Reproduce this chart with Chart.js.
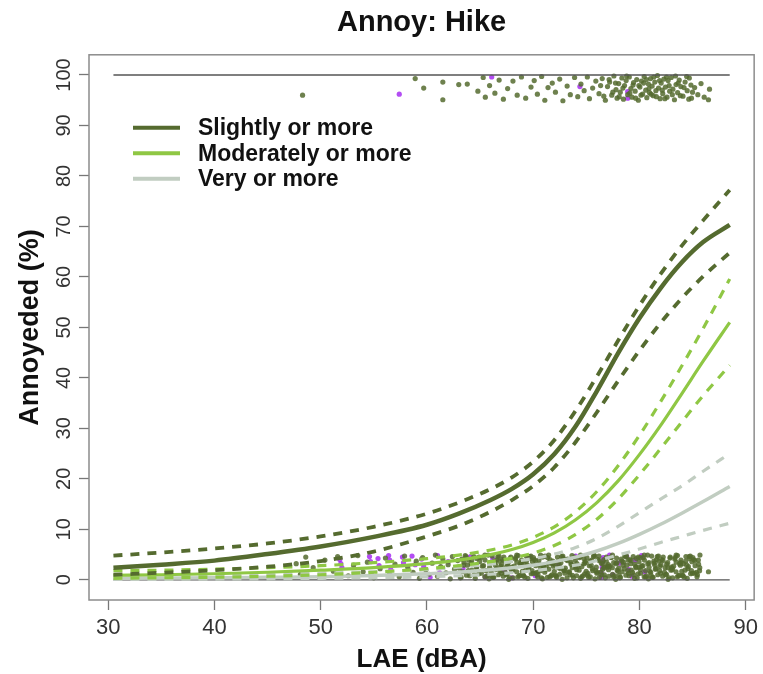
<!DOCTYPE html>
<html>
<head>
<meta charset="utf-8">
<script src="https://cdn.jsdelivr.net/npm/chart.js@4"></script>
<style>
html,body{margin:0;padding:0;background:#fff;}
#wrap{width:763px;height:674px;}
</style>
</head>
<body>
<div id="wrap"><canvas id="c" width="763" height="674"></canvas></div>
<script>
// ---- data ----
const xTicks = [30, 40, 50, 60, 70, 80, 90];
const yTicks = [0, 10, 20, 30, 40, 50, 60, 70, 80, 90, 100];
const lae          = [30.5, 35, 40, 45, 50, 55, 60, 63, 66, 68, 70, 72, 74, 76, 78, 80, 82, 84, 86, 88.5];
const slightly     = [2.4, 3.0, 3.8, 5.1, 6.6, 8.5, 10.9, 13.1, 15.8, 18.0, 20.9, 24.9, 30.4, 37.4, 44.9, 51.8, 57.8, 62.9, 66.9, 70.3];
const slightlyHi   = [4.8, 5.4, 6.2, 7.2, 8.6, 10.5, 13.1, 15.3, 18.0, 20.3, 23.4, 27.7, 33.5, 40.3, 47.4, 54.3, 60.6, 66.2, 71.2, 77.2];
const slightlyLo   = [1.0, 1.4, 1.9, 2.6, 3.7, 5.6, 8.6, 10.7, 13.5, 15.8, 18.6, 22.3, 27.3, 33.2, 39.4, 45.4, 50.9, 55.8, 60.1, 64.8];
const moderately   = [0.9, 1.0, 1.2, 1.5, 1.9, 2.4, 3.2, 3.9, 5.0, 6.0, 7.4, 9.3, 11.9, 15.3, 19.6, 24.8, 30.6, 36.9, 43.3, 51.0];
const moderatelyHi = [1.8, 1.9, 2.1, 2.4, 2.8, 3.4, 4.2, 4.9, 5.9, 6.9, 8.4, 10.5, 13.5, 17.5, 22.6, 28.6, 35.3, 42.4, 49.8, 59.6];
const moderatelyLo = [0.3, 0.4, 0.5, 0.7, 1.0, 1.5, 2.2, 2.8, 3.6, 4.3, 5.3, 6.8, 9.0, 12.0, 16.0, 20.8, 26.0, 31.3, 36.5, 42.5];
const very         = [0.3, 0.35, 0.4, 0.5, 0.6, 0.85, 1.2, 1.5, 2.0, 2.4, 2.9, 3.6, 4.5, 5.7, 7.2, 9.0, 11.0, 13.2, 15.5, 18.5];
const veryHi       = [0.9, 0.95, 1.0, 1.1, 1.3, 1.6, 2.0, 2.5, 3.1, 3.6, 4.2, 5.1, 6.4, 8.2, 10.6, 13.3, 16.0, 18.6, 21.5, 25.0];
const veryLo       = [0.1, 0.1, 0.15, 0.2, 0.3, 0.4, 0.6, 0.8, 1.1, 1.4, 1.8, 2.3, 2.9, 3.8, 4.9, 6.1, 7.4, 8.6, 9.8, 11.2];
const refX = [30.5, 88.5];
const refLow = [0, 0];
const refHigh = [100, 100];
const legendLabels = ['Slightly or more', 'Moderately or more', 'Very or more'];

// responses (jittered): [LAE, %]
const notAnnoyedGreen = [
[32.6,1.6],[47.7,3.2],[48.1,1.1],[48.6,4.5],[49.3,2.4],[49.9,0.5],[50.4,3.9],[51.2,1.7],[51.6,4.6],
[52.6,0.8],[53.1,2.9],[53.5,4.8],[54.0,1.6],[54.4,3.5],[55.0,0.4],[55.6,2.2],[56.1,4.3],[56.5,1.2],[57.0,3.1],[57.4,0.6],[57.9,4.7],[58.2,2.5],[58.7,1.5],
[59.0,3.7],[59.3,0.3],[59.6,4.4],[59.9,2.0],[60.2,1.1],[60.5,3.3],[60.8,4.9],[61.0,0.7],[61.3,2.6],[61.5,4.1],[61.8,1.4],[62.0,3.0],[62.2,0.2],[62.4,4.6],[62.6,2.1],[62.9,3.8],
[63.06,2.3],[63.15,0.4],[63.29,4.1],[63.38,1.6],[63.50,3.5],[63.61,4.8],[63.73,0.9],[63.82,2.9],[63.94,3.9],
[64.03,0.8],[64.19,3.2],[64.24,1.9],[64.42,4.6],[64.55,0.3],[64.66,2.6],[64.70,4.2],[64.88,1.2],[64.97,3.6],
[65.09,4.4],[65.12,1.3],[65.33,2.8],[65.45,0.6],[65.47,3.9],[65.58,1.8],[65.77,4.9],[65.85,0.2],[65.91,2.5],
[66.06,1.5],[66.15,4.7],[66.29,0.5],[66.38,3.3],[66.50,2.1],[66.61,4.0],[66.73,1.0],[66.82,3.7],[66.94,2.7],
[67.03,3.0],[67.19,0.7],[67.24,4.5],[67.42,2.4],[67.55,1.1],[67.66,3.4],[67.70,0.1],[67.88,4.3],[67.97,1.9],
[68.09,2.3],[68.12,0.4],[68.33,4.1],[68.45,1.6],[68.47,3.5],[68.58,4.8],[68.77,0.9],[68.85,2.9],[68.91,3.9],
[69.06,0.8],[69.15,3.2],[69.29,1.9],[69.38,4.6],[69.50,0.3],[69.61,2.6],[69.73,4.2],[69.82,1.2],[69.94,3.6],
[70.03,4.4],[70.19,1.3],[70.24,2.8],[70.42,0.6],[70.55,3.9],[70.66,1.8],[70.70,4.9],[70.88,0.2],[70.97,2.5],
[71.09,1.5],[71.12,4.7],[71.33,0.5],[71.45,3.3],[71.47,2.1],[71.58,4.0],[71.77,1.0],[71.85,3.7],[71.91,2.7],
[72.06,3.0],[72.15,0.7],[72.29,4.5],[72.38,2.4],[72.50,1.1],[72.61,3.4],[72.73,0.1],[72.82,4.3],[72.94,1.9],
[73.03,2.3],[73.19,0.4],[73.24,4.1],[73.42,1.6],[73.55,3.5],[73.66,4.8],[73.70,0.9],[73.88,2.9],[73.97,3.9],
[74.09,0.8],[74.12,3.2],[74.33,1.9],[74.45,4.6],[74.47,0.3],[74.58,2.6],[74.77,4.2],[74.85,1.2],[74.91,3.6],
[75.06,4.4],[75.15,1.3],[75.29,2.8],[75.38,0.6],[75.50,3.9],[75.61,1.8],[75.73,4.9],[75.82,0.2],[75.94,2.5],
[76.03,1.5],[76.19,4.7],[76.24,0.5],[76.42,3.3],[76.55,2.1],[76.66,4.0],[76.70,1.0],[76.88,3.7],[76.97,2.7],
[77.09,3.0],[77.12,0.7],[77.33,4.5],[77.45,2.4],[77.47,1.1],[77.58,3.4],[77.77,0.1],[77.85,4.3],[77.91,1.9],
[78.06,2.3],[78.15,0.4],[78.29,4.1],[78.38,1.6],[78.50,3.5],[78.61,4.8],[78.73,0.9],[78.82,2.9],[78.94,3.9],
[79.03,0.8],[79.19,3.2],[79.24,1.9],[79.42,4.6],[79.55,0.3],[79.66,2.6],[79.70,4.2],[79.88,1.2],[79.97,3.6],
[80.09,4.4],[80.12,1.3],[80.33,2.8],[80.45,0.6],[80.47,3.9],[80.58,1.8],[80.77,4.9],[80.85,0.2],[80.91,2.5],
[81.06,1.5],[81.15,4.7],[81.29,0.5],[81.38,3.3],[81.50,2.1],[81.61,4.0],[81.73,1.0],[81.82,3.7],[81.94,2.7],
[82.03,3.0],[82.19,0.7],[82.24,4.5],[82.42,2.4],[82.55,1.1],[82.66,3.4],[82.70,0.1],[82.88,4.3],[82.97,1.9],
[83.09,2.3],[83.12,0.4],[83.33,4.1],[83.45,1.6],[83.47,3.5],[83.58,4.8],[83.77,0.9],[83.85,2.9],[83.91,3.9],
[84.06,0.8],[84.15,3.2],[84.29,1.9],[84.38,4.6],[84.50,0.3],[84.61,2.6],[84.73,4.2],[84.82,1.2],[84.94,3.6],
[85.03,4.4],[85.19,1.3],[85.24,2.8],[85.42,0.6],[85.55,3.9],[85.66,1.8],[85.70,4.9],[86.5,1.6],
[66.10,0.9],[66.36,3.7],[66.57,2.2],[66.79,4.7],[66.99,1.3],[67.10,4.0],[67.36,1.5],[67.57,3.1],[67.79,0.4],[67.99,2.5],
[68.10,2.0],[68.36,4.4],[68.57,0.6],[68.79,3.2],[68.99,1.7],[69.10,0.9],[69.36,3.7],[69.57,2.2],[69.79,4.7],[69.99,1.3],
[70.10,4.0],[70.36,1.5],[70.57,3.1],[70.79,0.4],[70.99,2.5],[71.10,2.0],[71.36,4.4],[71.57,0.6],[71.79,3.2],[71.99,1.7],
[72.10,0.9],[72.36,3.7],[72.57,2.2],[72.79,4.7],[72.99,1.3],[73.10,4.0],[73.36,1.5],[73.57,3.1],[73.79,0.4],[73.99,2.5],
[74.10,2.0],[74.36,4.4],[74.57,0.6],[74.79,3.2],[74.99,1.7],[75.10,0.9],[75.36,3.7],[75.57,2.2],[75.79,4.7],[75.99,1.3],
[76.10,4.0],[76.36,1.5],[76.57,3.1],[76.79,0.4],[76.99,2.5],[77.10,2.0],[77.36,4.4],[77.57,0.6],[77.79,3.2],[77.99,1.7],
[78.10,0.9],[78.36,3.7],[78.57,2.2],[78.79,4.7],[78.99,1.3],[79.10,4.0],[79.36,1.5],[79.57,3.1],[79.79,0.4],[79.99,2.5],
[80.10,2.0],[80.36,4.4],[80.57,0.6],[80.79,3.2],[80.99,1.7],[81.10,0.9],[81.36,3.7],[81.57,2.2],[81.79,4.7],[81.99,1.3],
[82.10,4.0],[82.36,1.5],[82.57,3.1],[82.79,0.4],[82.99,2.5],[83.10,2.0],[83.36,4.4],[83.57,0.6],[83.79,3.2],[83.99,1.7],
[84.10,0.9],[84.36,3.7],[84.57,2.2],[84.79,4.7],[84.99,1.3],[85.10,4.0],[85.36,1.5],[85.57,3.1],
[63.22,0.5],[63.46,2.9],[63.68,4.6],[63.90,1.8],[64.22,3.8],[64.46,1.0],[64.68,2.4],[64.90,4.5],[65.22,2.7],[65.46,4.9],[65.68,0.8],[65.90,3.4],
[66.22,0.5],[66.46,2.9],[66.68,4.6],[66.90,1.8],[67.22,3.8],[67.46,1.0],[67.68,2.4],[67.90,4.5],[68.22,2.7],[68.46,4.9],[68.68,0.8],[68.90,3.4],
[69.22,0.5],[69.46,2.9],[69.68,4.6],[69.90,1.8],[70.22,3.8],[70.46,1.0],[70.68,2.4],[70.90,4.5],[71.22,2.7],[71.46,4.9],[71.68,0.8],[71.90,3.4],
[72.22,0.5],[72.46,2.9],[72.68,4.6],[72.90,1.8],[73.22,3.8],[73.46,1.0],[73.68,2.4],[73.90,4.5],[74.22,2.7],[74.46,4.9],[74.68,0.8],[74.90,3.4],
[75.22,0.5],[75.46,2.9],[75.68,4.6],[75.90,1.8],[76.22,3.8],[76.46,1.0],[76.68,2.4],[76.90,4.5],[77.22,2.7],[77.46,4.9],[77.68,0.8],[77.90,3.4],
[78.22,0.5],[78.46,2.9],[78.68,4.6],[78.90,1.8],[79.22,3.8],[79.46,1.0],[79.68,2.4],[79.90,4.5],[80.22,2.7],[80.46,4.9],[80.68,0.8],[80.90,3.4],
[81.22,0.5],[81.46,2.9],[81.68,4.6],[81.90,1.8],[82.22,3.8],[82.46,1.0],[82.68,2.4],[82.90,4.5],[83.22,2.7],[83.46,4.9],[83.68,0.8],[83.90,3.4],
[84.22,0.5],[84.46,2.9],[84.68,4.6],[84.90,1.8],[85.22,3.8],[85.46,1.0],[85.68,2.4]
];
const notAnnoyedPurple = [
[51.8,4.0],[51.9,3.2],[52.0,2.4],[54.6,4.6],[54.7,3.6],[54.8,1.0],[55.4,4.2],[55.5,2.8],[56.4,4.8],[56.5,3.9],[56.6,2.0],
[57.7,4.5],[57.8,3.4],[58.6,4.7],[58.9,3.0],[59.5,4.1],[59.7,2.6],[60.3,0.5],[61.0,4.8],[61.2,1.4],[62.0,3.6],[63.4,2.2],
[64.1,4.6],[65.5,0.6],[66.2,4.1],[67.3,1.9],[68.0,0.4],[69.5,4.5],[70.2,0.8],[72.4,2.9],[74.0,4.7],
[76.4,0.5],[76.4,1.5],[76.5,2.5],[76.5,3.5],[76.6,4.4],[77.2,4.9],[77.5,1.0],[78.1,3.3],[78.8,4.6],[79.0,2.0],[79.3,0.7],[79.6,3.9],[80.2,4.8],[80.5,1.6]
];
const annoyedGreen = [
[48.3,96.0],[58.9,99.3],[59.7,97.4],[61.5,98.6],[61.5,95.1],[63.0,98.1],[63.8,98.2],[64.8,96.8],
[65.3,99.5],[65.5,95.6],[65.9,97.9],[66.4,96.4],[66.8,99.0],[67.2,95.2],[67.6,97.3],[68.1,98.8],[68.5,96.0],[68.9,99.6],[69.3,95.4],[69.8,97.6],
[70.1,98.9],[70.4,96.2],[70.8,99.7],[71.1,95.0],[71.4,97.5],[71.8,98.4],[72.1,96.6],[72.5,99.2],[72.8,94.9],[73.2,97.8],[73.5,96.1],[73.9,99.5],[74.2,95.7],
[74.5,98.2],[74.8,96.9],[75.1,99.6],[75.3,95.3],[75.6,97.4],[75.9,98.8],[76.2,96.3],[76.5,99.3],[76.8,95.0],[77.0,97.7],
[77.2,98.6],[77.4,96.0],[77.6,99.8],[77.8,97.1],[77.9,95.4],
[78.05,98.3],[78.2,96.6],[78.35,99.4],[78.5,95.2],[78.6,97.9],[78.75,98.9],[78.9,96.1],
[79.05,99.6],[79.2,97.3],[79.3,95.6],[79.45,98.5],[79.6,96.8],[79.75,99.1],[79.9,95.0],
[80.05,97.6],[80.2,98.8],[80.3,96.2],[80.45,99.7],[80.6,97.0],[80.7,95.5],[80.85,98.2],[80.95,96.5],
[81.05,99.3],[81.2,97.8],[81.3,95.9],[81.45,98.6],[81.55,96.9],[81.7,99.9],[81.8,97.4],[81.95,95.3],
[82.05,98.4],[82.2,96.3],[82.3,99.2],[82.45,97.6],[82.6,95.6],[82.7,98.9],[82.85,96.8],
[83.0,99.5],[83.15,97.2],[83.3,95.1],[83.45,98.1],[83.6,96.5],[83.75,99.0],[83.9,97.7],
[84.1,95.8],[84.3,98.6],[84.5,96.9],[84.7,99.4],[84.9,95.4],
[85.2,97.5],[85.5,96.1],[85.8,98.3],[86.1,95.6],[86.5,95.1],[86.6,97.2],
[76.35,97.9],[76.65,95.8],[77.15,99.1],[77.5,96.6],[77.75,98.4],[78.1,95.7],[78.45,97.4],[78.8,99.8],[79.1,96.4],[79.4,98.0],[79.65,95.4],
[79.95,97.9],[80.15,96.0],[80.4,98.4],[80.65,99.1],[80.9,97.3],[81.1,96.2],[81.35,99.6],[81.6,95.7],[81.9,98.9],[82.15,97.0],[82.4,95.3],
[82.55,99.6],[82.8,97.9],[83.1,96.1],[83.4,99.8],[83.65,98.4],[83.85,95.9],[84.2,97.5],[84.45,99.7],[84.65,95.2],[84.85,98.0],[85.0,96.6]
];
const annoyedPurple = [[57.4,96.2],[66.1,99.6],[74.4,97.7],[78.9,96.7],[78.9,95.4]];

// ---- styles ----
const DARK = '#556B2F', LIGHT = '#8FC744', GRAY = '#C1CDC1';
const FONT = '"Liberation Sans", Arial, Helvetica, sans-serif';
const pts = (xs, ys) => xs.map((x, i) => ({x: x, y: ys[i]}));
const pairs = a => a.map(p => ({x: p[0], y: p[1]}));

function curve(label, ys, color, width, dashed) {
  return {label, data: pts(lae, ys), showLine: true, borderColor: color, borderWidth: width,
    borderDash: dashed ? [9, 8] : [], pointRadius: 0, cubicInterpolationMode: 'monotone', fill: false, order: 0};
}
function dots(data, color) {
  return {data: pairs(data), showLine: false, pointRadius: 2.6, pointBorderWidth: 0,
    pointBackgroundColor: color, pointBorderColor: color, order: 5};
}

const boxPlugin = {
  id: 'box',
  afterDatasetsDraw(chart) {
    const {ctx, chartArea: a} = chart;
    ctx.save();
    ctx.strokeStyle = '#8c8c8c';
    ctx.lineWidth = 1.5;
    ctx.strokeRect(a.left, a.top, a.right - a.left, a.bottom - a.top);
    ctx.restore();
  }
};
const legendPlugin = {
  id: 'rlegend',
  afterDatasetsDraw(chart) {
    const {ctx, chartArea: a} = chart;
    const cols = [DARK, LIGHT, GRAY];
    ctx.save();
    ctx.font = 'bold 23px ' + FONT;
    ctx.textBaseline = 'middle';
    ctx.fillStyle = '#111';
    legendLabels.forEach((t, i) => {
      const y = a.top + 73 + i * 25.5;
      ctx.strokeStyle = cols[i];
      ctx.lineWidth = 4;
      ctx.beginPath();
      ctx.moveTo(a.left + 44, y);
      ctx.lineTo(a.left + 91, y);
      ctx.stroke();
      ctx.fillText(t, a.left + 109, y + 1);
    });
    ctx.restore();
  }
};

new Chart(document.getElementById('c'), {
  type: 'scatter',
  data: {
    datasets: [
      {data: pts(refX, refLow), showLine: true, borderColor: '#555', borderWidth: 1.3, pointRadius: 0, order: 1},
      {data: pts(refX, refHigh), showLine: true, borderColor: '#555', borderWidth: 1.3, pointRadius: 0, order: 1},
      curve('Slightly or more', slightly, DARK, 4.5, false),
      curve('Slightly hi', slightlyHi, DARK, 3.8, true),
      curve('Slightly lo', slightlyLo, DARK, 3.8, true),
      curve('Moderately or more', moderately, LIGHT, 3.2, false),
      curve('Moderately hi', moderatelyHi, LIGHT, 3.2, true),
      curve('Moderately lo', moderatelyLo, LIGHT, 3.2, true),
      curve('Very or more', very, GRAY, 3.5, false),
      curve('Very hi', veryHi, GRAY, 3.2, true),
      curve('Very lo', veryLo, GRAY, 3.2, true),
      dots(notAnnoyedGreen, 'rgba(85,107,47,0.85)'),
      dots(annoyedGreen, 'rgba(85,107,47,0.85)'),
      dots(notAnnoyedPurple, 'rgba(160,32,240,0.8)'),
      dots(annoyedPurple, 'rgba(160,32,240,0.8)')
    ]
  },
  options: {
    responsive: false,
    animation: false,
    devicePixelRatio: 1,
    layout: {padding: {left: 0, right: 6, top: 0, bottom: 0}},
    plugins: {
      legend: {display: false},
      tooltip: {enabled: false},
      title: {display: true, text: 'Annoy: Hike', fullSize: false, color: '#111',
        font: {family: FONT, size: 29, weight: 'bold', lineHeight: 1.2}, padding: {top: 6, bottom: 14}}
    },
    scales: {
      x: {
        type: 'linear', min: 28.2, max: 90.8,
        afterBuildTicks: s => { s.ticks = xTicks.map(v => ({value: v})); },
        afterFit: s => { s.height = 74; },
        grid: {display: true, drawOnChartArea: false, drawTicks: true, tickLength: 10, tickWidth: 1.3, tickColor: '#777'},
        border: {display: false},
        ticks: {font: {family: FONT, size: 22}, color: '#333', padding: 5, maxRotation: 0, autoSkip: false},
        title: {display: true, text: 'LAE (dBA)', color: '#111', font: {family: FONT, size: 26, weight: 'bold', lineHeight: 1}, padding: {top: 0, bottom: 1}}
      },
      y: {
        type: 'linear', min: -4, max: 104,
        afterBuildTicks: s => { s.ticks = yTicks.map(v => ({value: v})); },
        afterFit: s => { s.width = 89; },
        grid: {display: true, drawOnChartArea: false, drawTicks: true, tickLength: 10, tickWidth: 1.3, tickColor: '#777'},
        border: {display: false},
        ticks: {font: {family: FONT, size: 20}, color: '#333', padding: -2, minRotation: 90, maxRotation: 90, crossAlign: 'center', autoSkip: false},
        title: {display: true, text: 'Annoyeded (%)', color: '#111', font: {family: FONT, size: 27, weight: 'bold', lineHeight: 1}, padding: {top: 17, bottom: 0}}
      }
    }
  },
  plugins: [boxPlugin, legendPlugin]
});
</script>
</body>
</html>
